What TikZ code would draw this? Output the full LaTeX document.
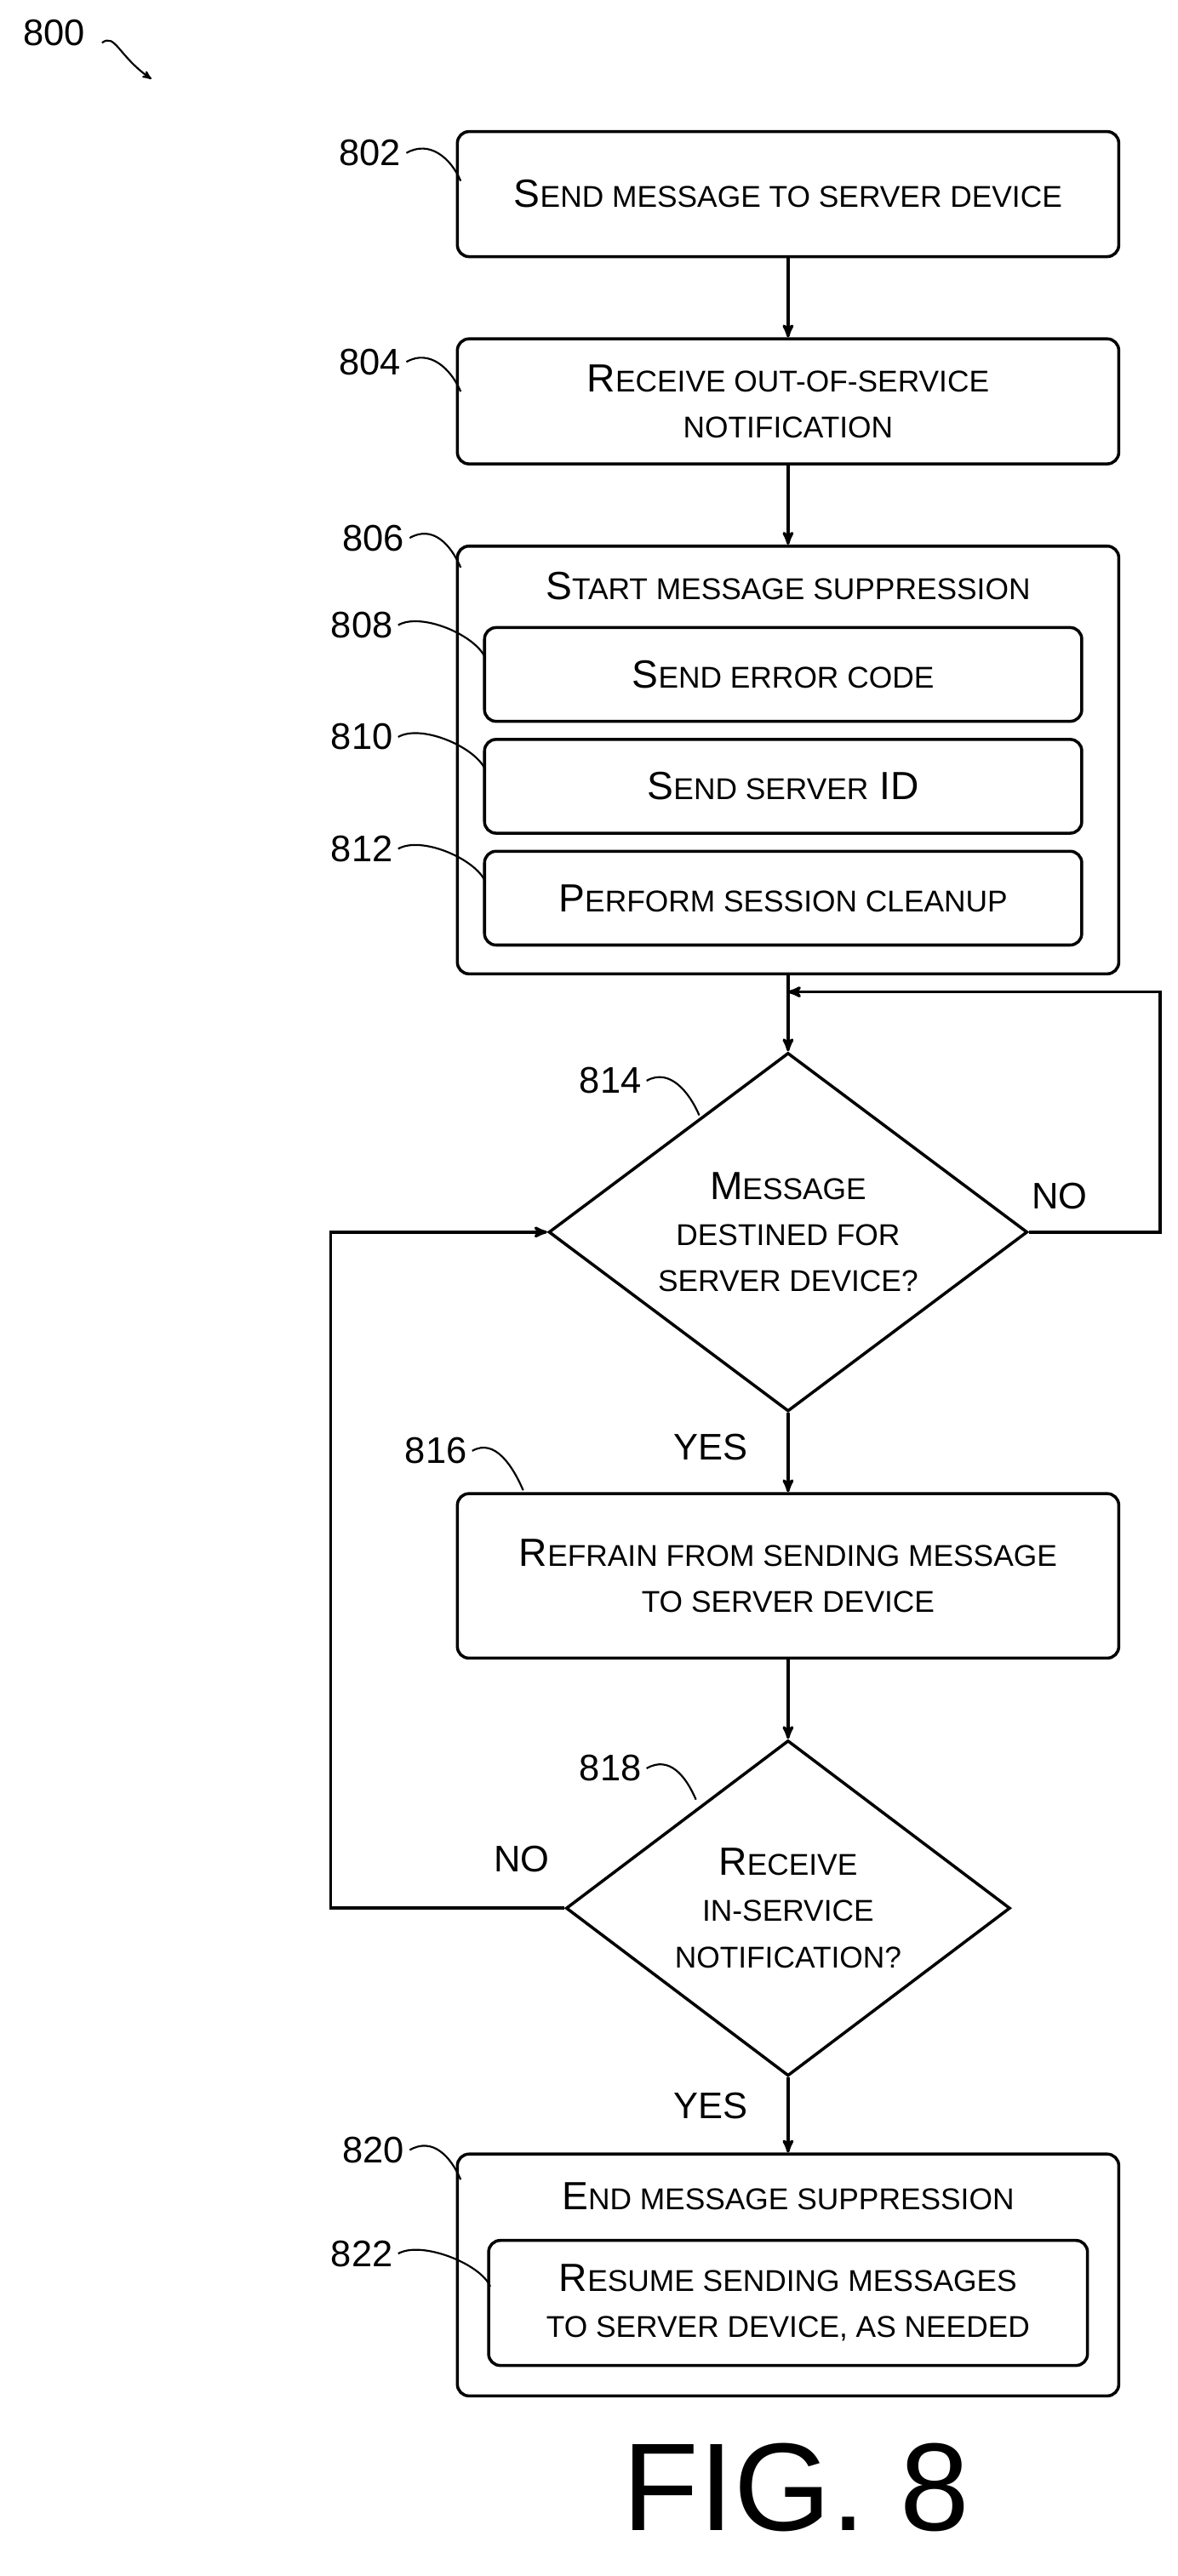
\documentclass[tikz,border=0pt]{standalone}
\usepackage{fontspec}
\setmainfont{Liberation Sans}
\usetikzlibrary{shapes.geometric,arrows,positioning}
\newcommand\smc[2]{#1{\fontsize{26}{40}\selectfont #2}}
\tikzset{box/.style={draw,rounded corners=10pt,minimum height=76\pxu,minimum width=402\pxu,align=center,font=\fontsize{34}{40}\selectfont},
         inbox/.style={box,minimum height=57\pxu,minimum width=363\pxu},
         dec/.style={draw,diamond,aspect=1.33,minimum width=291\pxu,minimum height=218\pxu,inner sep=0pt,align=center,font=\fontsize{34}{40}\selectfont},
         num/.style={font=\fontsize{32}{36}\selectfont},
         lead/.style={line width=1.6pt}
}
\newlength\pxu \setlength\pxu{0.05cm}
\begin{document}
\begin{tikzpicture}[x=0.05cm,y=-0.05cm,>={stealth'[scale=2.2]},line width=2.6pt]
    \useasboundingbox (0,0) rectangle (716,1566);
    % boxes
    \node[box] (b802) at (479,118) {\smc{S}{END MESSAGE TO SERVER DEVICE}};
    \node[box] (b804) at (479,244) {\smc{R}{ECEIVE OUT-OF-SERVICE}\\\smc{}{NOTIFICATION}};
    \node[box,minimum height=260\pxu] (b806) at (479,462) {};
    \node[font=\fontsize{34}{40}\selectfont] (t806) at (479,356) {\smc{S}{TART MESSAGE SUPPRESSION}};
    \node[inbox] (b808) at (476,410) {\smc{S}{END ERROR CODE}};
    \node[inbox] (b810) at (476,478) {\smc{S}{END SERVER} ID};
    \node[inbox] (b812) at (476,546) {\smc{P}{ERFORM SESSION CLEANUP}};
    \node[dec] (d814) at (479,749) {\smc{M}{ESSAGE}\\\smc{}{DESTINED FOR}\\\smc{}{SERVER DEVICE?}};
    \node[box,minimum height=100\pxu] (b816) at (479,958) {\smc{R}{EFRAIN FROM SENDING MESSAGE}\\\smc{}{TO SERVER DEVICE}};
    \node[dec,minimum width=270\pxu,minimum height=204\pxu] (d818) at (479,1160) {\smc{R}{ECEIVE}\\\smc{}{IN-SERVICE}\\\smc{}{NOTIFICATION?}};
    \node[box,minimum height=147\pxu] (b820) at (479,1383) {};
    \node[font=\fontsize{34}{40}\selectfont] (t820) at (479,1335) {\smc{E}{ND MESSAGE SUPPRESSION}};
    \node[inbox,minimum height=76\pxu,minimum width=364\pxu] (b822) at (479,1400) {\smc{R}{ESUME SENDING MESSAGES}\\\smc{}{TO SERVER DEVICE, AS NEEDED}};
    % connectors
    \coordinate (j814) at (479,603);
    \draw[->] (b802) -- (b804);
    \draw[->] (b804) -- (b806);
    \draw[->] (b806) -- (d814);
    \draw[->] (d814.east) -- (705,749) -- (705,603) -- (j814);
    \draw[->] (d814) -- (b816);
    \draw[->] (b816) -- (d818);
    \draw[->] (d818.west) -- (201,1160) -- (201,749) -- (d814.west);
    \draw[->] (d818) -- (b820);
    \node[num] (no1) at (644,727) {NO};
    \node[num] (no2) at (317,1130) {NO};
    \node[num] (yes1) at (432,880) {YES};
    \node[num] (yes2) at (432,1280) {YES};
    % reference numbers
    \node[num] (n800) at (33,20) {800};
    \draw[->,lead] (62,26) .. controls (70,20) and (72,34) .. (92,48);
    \foreach \n/\x/\y/\ex/\ey in {802/225/93/280/110, 804/225/220/280/238, 806/227/327/280/345,
        808/220/380/295/400, 810/220/448/295/468, 812/220/516/295/536,
        814/371/657/425/678, 816/265/882/318/906, 818/371/1075/423/1094,
        820/227/1307/280/1325, 822/220/1370/298/1390}
    {
        \node[num] (n\n) at (\x,\y) {\n};
        \draw[lead] (n\n.east) .. controls +(14,-8) and +(-6,-14) .. (\ex,\ey);
    }
    \node[font=\fontsize{108}{120}\selectfont] (fig) at (484,1512) {FIG. 8};
\end{tikzpicture}
\end{document}
